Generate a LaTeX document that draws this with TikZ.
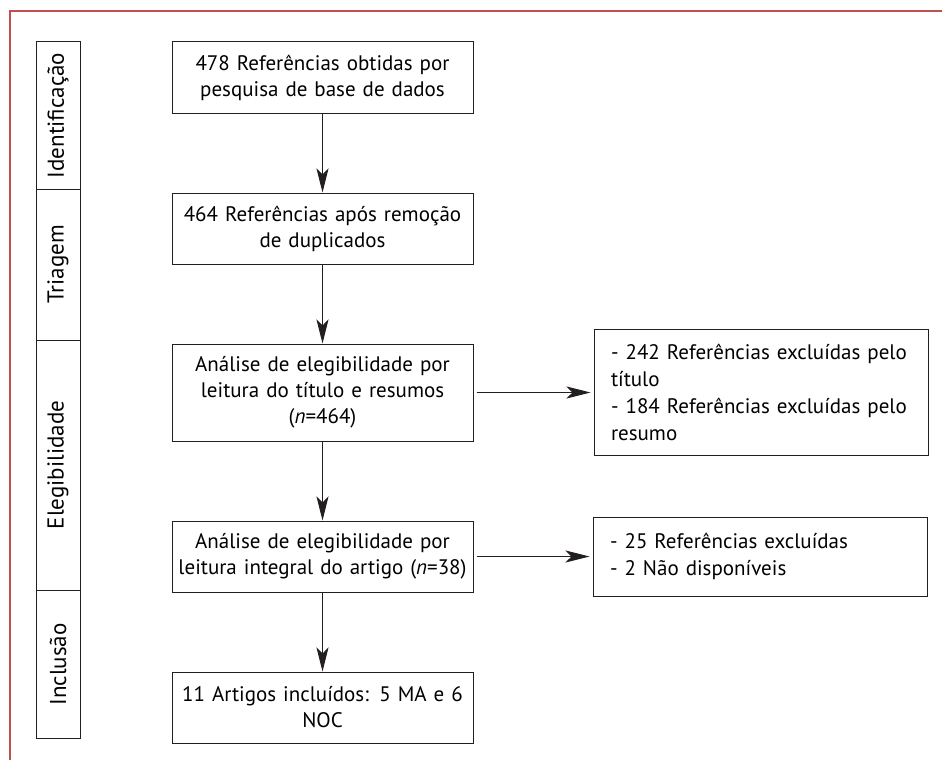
\documentclass[tikz,border=0pt]{standalone}
\usepackage{fontspec}
\setmainfont{PT Sans}
\usetikzlibrary{positioning, arrows.meta}
\definecolor{myframered}{RGB}{192, 80, 77}
\definecolor{myboxgrey}{RGB}{35, 31, 32}

\begin{document}
\begin{tikzpicture}[x = 1pt, y = -1pt, node distance = 79pt, line width = 1pt,
  stage/.style = {draw = myboxgrey, rectangle, align = center, text width = 293pt, inner xsep = 4pt, minimum height = 71pt, font = \fontsize{21}{26}\selectfont},
  excl/.style = {draw = myboxgrey, rectangle, align = left, text width = 300pt, inner xsep = 17pt, font = \fontsize{21}{27}\selectfont},
  phase/.style = {draw = myboxgrey, rectangle, rotate = 90, minimum height = 44pt, font = \fontsize{23}{26}\selectfont},
  flow/.style = {draw = myboxgrey, -{Stealth[length = 24pt, width = 12pt, inset = 6pt]}}]
  \useasboundingbox (0,0) rectangle (942,760);
  % frame
  \draw [myframered, line width = 2pt] (10,760) -- (10,11) -- (942,11);

  % nodes
  \node [stage] (refs) at (322.5,77.5) {478 Referências obtidas por\\pesquisa de base de dados};
  \node [stage][below = of refs] (dedup) {464 Referências após remoção\\de duplicados};
  \node [stage, minimum height = 97pt][below = of dedup] (title) {Análise de elegibilidade por\\leitura do título e resumos\\(\textit{n}=464)};
  \node [stage][below = of title] (full) {Análise de elegibilidade por\\leitura integral do artigo (\textit{n}=38)};
  \node [stage][below = of full] (incl) {11 Artigos incluídos: 5 MA e 6\\NOC};

  \node [excl, minimum height = 126pt][right = 120pt of title] (excl-title) {- 242 Referências excluídas pelo\\título\\- 184 Referências excluídas pelo\\resumo};
  \node [excl, minimum height = 79pt][right = 119pt of full] (excl-full) {- 25 Referências excluídas\\- 2 Não disponíveis\\[4pt]};

  % phases
  \node [phase, minimum width = 147pt] (ident) at (58,115.5) {Identificação};
  \node [phase, minimum width = 151pt] (triag) at (58,264.5) {Triagem};
  \node [phase, minimum width = 250pt] (eleg) at (58,465) {Elegibilidade};
  \node [phase, minimum width = 148pt] (inclu) at (58,664.5) {Inclusão};

  % edges
  \draw [flow] (refs) to (dedup);
  \draw [flow] (dedup) to (title);
  \draw [flow] (title) to (full);
  \draw [flow] (full) to (incl);
  \draw [flow, shorten <= 3pt, shorten >= 3pt] (title) to (excl-title);
  \draw [flow, shorten <= 3pt, shorten >= 3pt] (full) to (excl-full);
\end{tikzpicture}
\end{document}
